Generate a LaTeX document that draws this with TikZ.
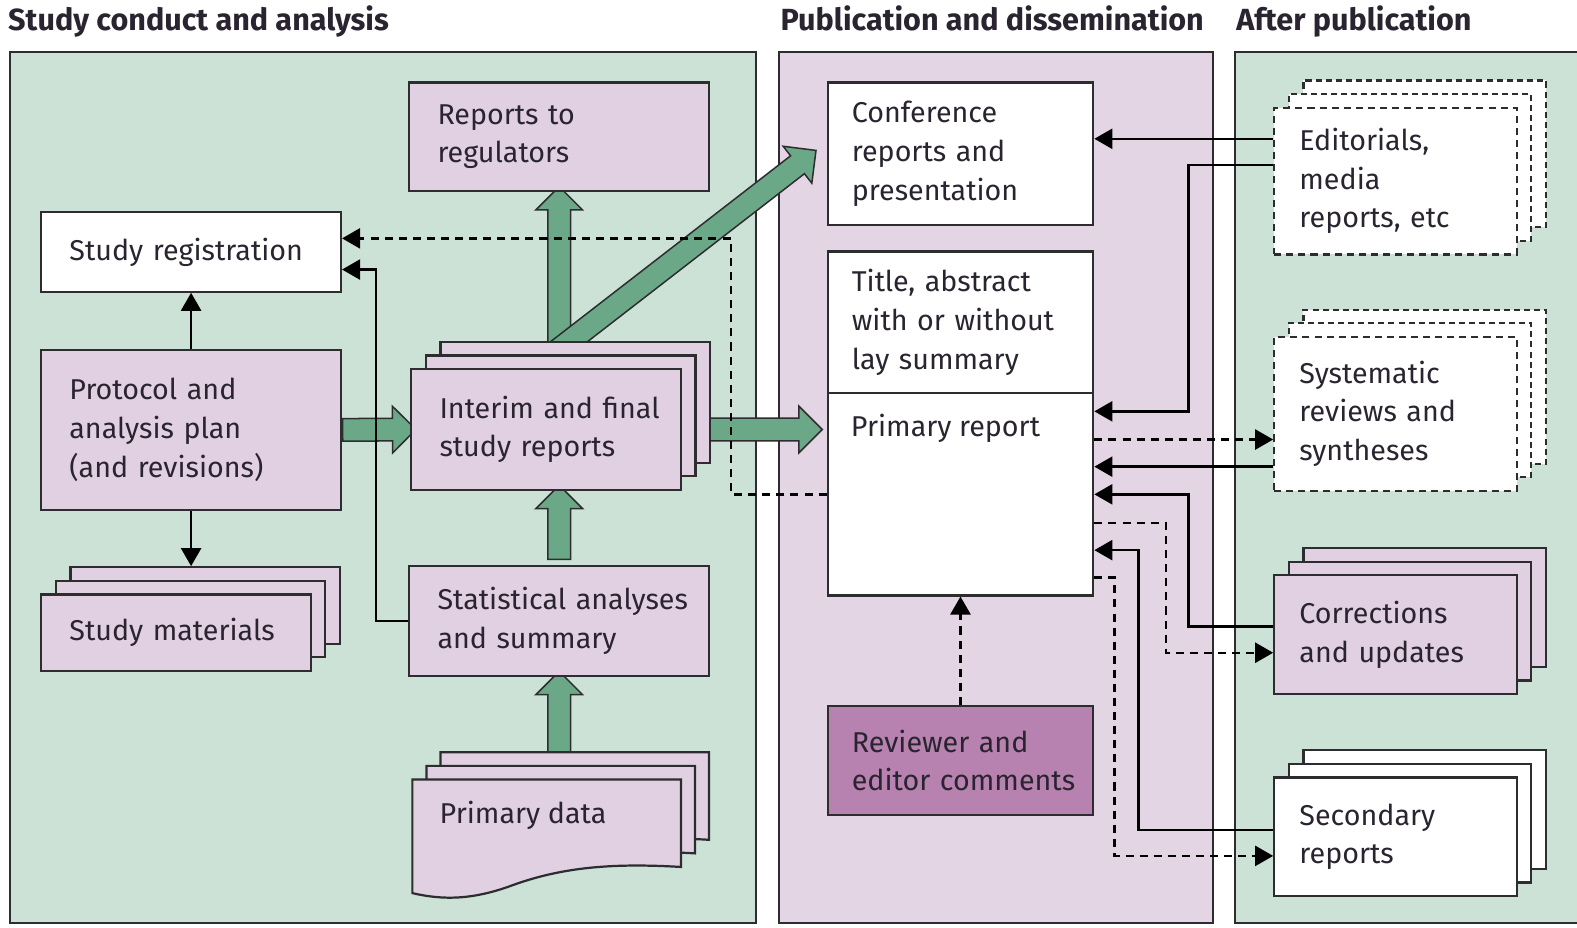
\documentclass[tikz,border=0pt]{standalone}
\usepackage{fontspec}
\setmainfont{Fira Sans}
\usetikzlibrary{arrows.meta,positioning,calc,shapes.arrows,shadows}

\definecolor{greenbg}{RGB}{205,226,215}
\definecolor{pinkbg}{RGB}{227,213,228}
\definecolor{boxpink}{RGB}{225,208,226}
\definecolor{revfill}{RGB}{183,130,175}
\definecolor{arrowgreen}{RGB}{106,168,136}
\definecolor{linec}{RGB}{45,45,48}
\definecolor{txt}{RGB}{42,36,48}

\hyphenpenalty=10000
\hbadness=10000
\hfuzz=80pt

\pgfdeclarelayer{panel}
\pgfdeclarelayer{back}
\pgfsetlayers{panel,back,main}

% thick green arrow between two points
\newcommand{\fatlink}[3]{%
  \path let \p1=#2, \p2=#3,
    \n1={veclen(\x2-\x1,\y2-\y1)}, \n2={atan2(\y2-\y1,\x2-\x1)} in
    node[fat, minimum height=\n1, rotate=\n2] (#1) at ($(\p1)!0.5!(\p2)$) {};}

\begin{document}
\begin{tikzpicture}[
  x=1pt, y=-1pt,
  body/.style={font=\fontsize{28.5}{38.5}\selectfont, text=txt},
  header/.style={font=\bfseries\fontsize{30.4}{34}\selectfont, text=txt, inner sep=0pt},
  box/.style={body, draw=linec, line width=2.2pt, fill=boxpink, align=left, inner ysep=3pt},
  stack/.style={
    copy shadow={shadow xshift=29pt, shadow yshift=27pt, fill=#1, draw=linec, line width=2.2pt},
    copy shadow={shadow xshift=14.5pt, shadow yshift=13.5pt, fill=#1, draw=linec, line width=2.2pt}},
  stack/.default=boxpink,
  dstack/.style={dash pattern=on 7pt off 5pt,
    copy shadow={shadow xshift=29pt, shadow yshift=27pt, fill=white, draw=linec, line width=2.2pt, dash pattern=on 6pt off 4pt},
    copy shadow={shadow xshift=14.5pt, shadow yshift=13.5pt, fill=white, draw=linec, line width=2.2pt, dash pattern=on 6pt off 4pt}},
  panel/.style={draw=linec, line width=2pt},
  fat/.style={single arrow, draw=linec, fill=arrowgreen, line width=1.5pt,
    inner xsep=0pt, inner ysep=10.5pt, single arrow head extend=12pt, single arrow head indent=0pt},
  link/.style={draw=black, line width=2.4pt, -{Triangle[length=18pt,width=20pt]}},
  dlink/.style={link, dash pattern=on 8pt off 6pt}
]
\useasboundingbox (0,0) rectangle (1568,922);

% panels
\begin{pgfonlayer}{panel}
  \fill[white] (0,0) rectangle (1568,922);
  \draw[panel, fill=greenbg] (10,52) rectangle (752,918);
  \draw[panel, fill=pinkbg] (775,52) rectangle (1206,918);
  \draw[panel, fill=greenbg] (1228,52) rectangle (1590,918);
\end{pgfonlayer}

\node[header, anchor=base west] (hstudy) at (8,30) {Study conduct and analysis};
\node[header, anchor=base west] (hpub) at (776,30) {Publication and dissemination};
\node[header, anchor=base west] (hafter) at (1229,30) {After publication};

% study conduct and analysis
\node[box, fill=white, minimum width=298pt, minimum height=79pt, text width=242pt, inner xsep=28pt] (reg) at (190,250.5) {Study~registration};
\node[box, minimum width=298pt, minimum height=159pt, text width=242pt, inner xsep=28pt] (proto) at (190,427.5) {Protocol and\\analysis plan\\(and revisions)};
\node[box, stack, minimum width=268pt, minimum height=76pt, text width=212pt, inner xsep=28pt] (mat) at (175,629) {Study~materials};
\node[box, minimum width=298pt, minimum height=108pt, text width=242pt, inner xsep=28pt] (regul) at (556,136) {Reports to\\regulators};
\node[box, stack, minimum width=268pt, minimum height=120pt, text width=212pt, inner xsep=28pt] (interim) at (543,427) {Interim~and~final\\study reports};
\node[box, minimum width=298pt, minimum height=109pt, text width=242pt, inner xsep=28pt] (stat) at (556,617.5) {Statistical~analyses\\and summary};

\foreach \k in {2,1,0}
  \draw[draw=linec, line width=2.2pt, fill=boxpink, shift={(14*\k,-13.5*\k)}]
    (410,775) -- (677,775) -- (677,862)
    .. controls (610,858) and (560,862) .. (510,880)
    .. controls (470,895) and (440,895) .. (410,888) -- cycle;
\node[body, anchor=north west, inner xsep=27pt, inner ysep=21pt] (data) at (410,775) {Primary data};

% publication and dissemination
\node[box, fill=white, minimum width=264pt, minimum height=142pt, text width=216pt, inner xsep=24pt] (conf) at (955,153) {Conference\\reports and\\presentation};
\node[box, fill=white, minimum width=264pt, minimum height=141pt, text width=216pt, inner xsep=24pt] (title) at (955,320.5) {Title, abstract\\with~or~without\\lay summary};
\node[box, fill=white, minimum width=264pt, minimum height=201pt] (prim) at (955,491.5) {};
\node[body, anchor=north west, inner xsep=24pt, inner ysep=22pt] (primlbl) at (prim.north west) {Primary report};
\node[box, fill=revfill, minimum width=264pt, minimum height=108pt, text width=216pt, inner xsep=24pt] (rev) at (955,756) {Reviewer and\\editor~comments};

% after publication
\node[box, fill=white, dstack, minimum width=241pt, minimum height=146pt, text width=191pt, inner xsep=25pt] (edit) at (1387.5,180) {Editorials,\\media\\reports,~etc};
\node[box, fill=white, dstack, minimum width=241pt, minimum height=153pt, text width=191pt, inner xsep=25pt] (sys) at (1387.5,411.5) {Systematic\\reviews~and\\syntheses};
\node[box, stack, minimum width=241pt, minimum height=118pt, text width=191pt, inner xsep=25pt] (corr) at (1387.5,631) {Corrections\\and~updates};
\node[box, fill=white, stack=white, minimum width=241pt, minimum height=118pt, text width=191pt, inner xsep=25pt] (sec) at (1387.5,832) {Secondary\\reports};

% thick arrows
\begin{pgfonlayer}{back}
  \fatlink{fplan}{($(proto.east)+(-5,0)$)}{(interim.west)}
  \fatlink{fprim}{(interim.east)}{($(interim.east -| prim.west)+(-10,0)$)}
  \fatlink{fstat}{(stat.north)}{(stat.north |- interim.south)}
  \fatlink{fdata}{(data.north -| stat.south)}{(stat.south)}
  \fatlink{fregul}{(interim.north -| regul.south)}{(regul.south)}
  \fatlink{fconf}{($(interim.north)+(-2,-7)$)}{($(conf.west)+(-15,0)$)}
\end{pgfonlayer}

% thin links
\coordinate (e1) at ([yshift=42pt]edit.west);
\coordinate (e2) at ([yshift=16pt]edit.west);
\coordinate (s1) at ([yshift=-25.5pt]sys.west);
\coordinate (s2) at ([yshift=-52.5pt]sys.west);

\draw[link] (proto.north) -- (reg.south);
\draw[link] (proto.south) -- ([yshift=27pt]mat.north -| proto.south);
\draw[link] (stat.west) -- ++(-32,0) |- ([yshift=-17.5pt]reg.east);
\draw[dlink] (prim.west) -- ++(-95,0) |- ([yshift=13.5pt]reg.east);
\draw[dlink] (rev.north) -- (prim.south);

\draw[link] (e1) -- (e1 -| conf.east);
\draw[link] (e2) -- ++(-84,0) |- ([yshift=82.5pt]prim.east);
\draw[dlink] (s1 -| prim.east) -- (s1);
\draw[link] (s2) -- (s2 -| prim.east);
\draw[link] ([yshift=8pt]corr.west) -- ++(-84,0) |- (prim.east);
\draw[dlink] ([yshift=-28.5pt]prim.east) -- ++(71,0) |- ([yshift=-18pt]corr.west);
\draw[link] ([yshift=7pt]sec.west) -- ++(-134,0) |- ([yshift=-55.5pt]prim.east);
\draw[dlink] ([yshift=-82.5pt]prim.east) -- ++(20,0) |- ([yshift=-19pt]sec.west);
\end{tikzpicture}
\end{document}
